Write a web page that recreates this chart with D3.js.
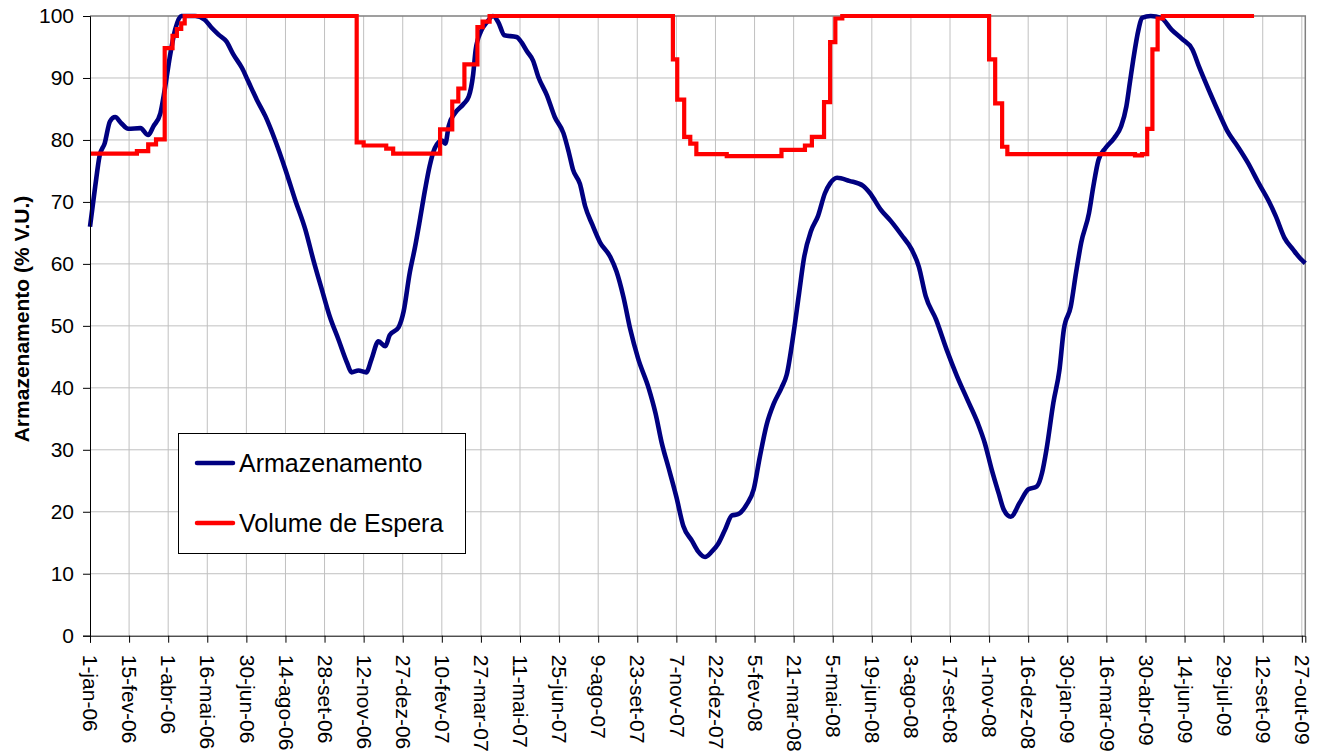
<!DOCTYPE html>
<html>
<head>
<meta charset="utf-8">
<script src="https://cdn.jsdelivr.net/npm/d3@7"></script>
<style>
  body { margin: 0; background: #fff; }
  svg { display: block; font-family: "Liberation Sans", Arial, sans-serif; }
</style>
</head>
<body>
<svg id="chart" width="1323" height="753"></svg>
<script>
// rótulos do eixo x (a cada 45 dias)
var tickLabels = [ "1-jan-06", "15-fev-06", "1-abr-06", "16-mai-06", "30-jun-06", "14-ago-06",
  "28-set-06", "12-nov-06", "27-dez-06", "10-fev-07", "27-mar-07", "11-mai-07", "25-jun-07",
  "9-ago-07", "23-set-07", "7-nov-07", "22-dez-07", "5-fev-08", "21-mar-08", "5-mai-08",
  "19-jun-08", "3-ago-08", "17-set-08", "1-nov-08", "16-dez-08", "30-jan-09", "16-mar-09",
  "30-abr-09", "14-jun-09", "29-jul-09", "12-set-09", "27-out-09" ];

var yTicks = [ 0, 10, 20, 30, 40, 50, 60, 70, 80, 90, 100 ];

// Armazenamento: dias desde 1-jan-06 e % V.U.
var armDays = [ 0, 6, 11, 17, 23, 29, 36, 44, 58, 67, 73, 81, 86, 92, 98, 105, 121, 132, 140, 148,
  157, 165, 175, 182, 192, 202, 213, 225, 236, 248, 257, 267, 276, 286, 296, 301, 309, 318, 324, 332,
  340, 345, 355, 361, 368, 374, 380, 386, 391, 397, 405, 409, 413, 420, 430, 436, 441, 444, 450, 457,
  464, 470, 477, 491, 497, 503, 510, 516, 526, 535, 545, 551, 556, 564, 570, 578, 587, 599, 606, 614,
  622, 631, 643, 651, 658, 666, 675, 683, 693, 700, 708, 716, 723, 731, 739, 746, 756, 764, 771, 779,
  787, 796, 802, 810, 816, 822, 830, 838, 846, 852, 860, 874, 890, 898, 910, 922, 934, 946, 954, 962,
  974, 986, 998, 1010, 1022, 1030, 1038, 1046, 1052, 1060, 1070, 1080, 1090, 1096, 1101, 1109, 1116, 1121, 1129, 1135,
  1141, 1150, 1155, 1161, 1169, 1179, 1187, 1193, 1197, 1201, 1207, 1211, 1221, 1233, 1245, 1257, 1269, 1277, 1289, 1301,
  1309, 1321, 1333, 1345, 1357, 1365, 1375, 1385, 1393, 1399 ];
var armValues = [ 66.0, 72.5, 77.4, 79.5, 83.0, 83.7, 82.7, 81.8, 81.9, 80.8, 82.2, 84.3, 88.1, 93.5, 97.8, 100, 100, 99.4, 98.1, 97.0,
  95.9, 93.8, 91.6, 89.5, 86.5, 83.8, 80.0, 75.2, 70.4, 65.5, 60.7, 55.8, 51.5, 47.8, 44.0, 42.5, 42.8, 42.5, 44.6, 47.5,
  46.7, 48.5, 49.7, 52.3, 58.5, 62.6, 67.3, 72.2, 75.8, 78.7, 79.9, 79.4, 82.3, 84.3, 85.8, 87.0, 90.5, 94.6, 97.5, 99.0,
  100, 99.0, 96.9, 96.6, 95.7, 94.3, 92.8, 90.2, 87.2, 83.7, 81.1, 78.1, 75.2, 72.9, 69.3, 66.4, 63.5, 61.1, 58.8, 54.7,
  49.4, 44.7, 40.0, 35.9, 31.2, 27.1, 22.4, 17.7, 15.3, 13.6, 12.7, 13.6, 14.8, 17.1, 19.4, 19.6, 21.2, 23.6, 28.8, 34.1,
  37.4, 40.0, 42.1, 48.9, 55.0, 61.0, 65.3, 67.7, 71.4, 73.0, 73.9, 73.4, 72.6, 71.4, 68.8, 66.9, 64.7, 62.3, 59.6, 54.8,
  51.0, 46.2, 41.9, 38.1, 34.3, 31.1, 26.8, 23.0, 20.3, 19.2, 21.4, 23.6, 24.1, 26.3, 30.0, 37.6, 42.9, 49.4, 53.1, 58.5,
  63.4, 68.2, 72.5, 76.8, 78.7, 80.3, 82.2, 85.4, 89.2, 93.0, 97.8, 99.7, 100, 99.7, 97.8, 96.3, 94.6, 91.7, 87.7, 83.9,
  81.5, 79.0, 76.3, 73.1, 70.1, 67.7, 64.2, 62.3, 60.9, 60.1 ];

// Volume de Espera (degraus): dia de início de cada patamar e valor
var esperaDays = [ 0, 54, 67, 76, 86, 95, 100, 105, 109, 307, 315, 341, 349, 403, 417, 424, 431, 446, 452, 460,
  671, 676, 684, 691, 698, 733, 796, 823, 831, 845, 852, 858, 866, 1035, 1042, 1050, 1056, 1203, 1211, 1217,
  1223, 1229, 1235, 1340 ];
var esperaValues = [ 77.8, 78.2, 79.3, 80.1, 94.8, 96.8, 97.9, 98.8, 100, 79.6, 79.1, 78.6, 77.8, 81.7, 86.2, 88.3, 92.2, 98.2, 99.1, 100,
  93.0, 86.5, 80.5, 79.4, 77.7, 77.4, 78.4, 79.1, 80.5, 86.1, 95.8, 99.6, 100, 93.0, 85.9, 78.9, 77.7, 77.5, 77.7, 81.8,
  94.6, 99.6, 100, 100 ];

var seriesNames = [ "Armazenamento", "Volume de Espera" ];
var seriesColors = [ "#000080", "#ff0000" ];

var MARGIN = { left: 90, right: 1305.3, top: 16, bottom: 635.7 };

var ptLocale = d3.timeFormatLocale( {
  dateTime: "%d/%m/%Y %H:%M:%S", date: "%d/%m/%Y", time: "%H:%M:%S",
  periods: [ "AM", "PM" ],
  days: [ "domingo", "segunda", "terça", "quarta", "quinta", "sexta", "sábado" ],
  shortDays: [ "dom", "seg", "ter", "qua", "qui", "sex", "sáb" ],
  months: [ "janeiro", "fevereiro", "março", "abril", "maio", "junho", "julho", "agosto", "setembro", "outubro", "novembro", "dezembro" ],
  shortMonths: [ "jan", "fev", "mar", "abr", "mai", "jun", "jul", "ago", "set", "out", "nov", "dez" ]
} );
var parsePt = ptLocale.utcParse( "%d-%b-%y" );

var start = Date.UTC( 2006, 0, 1 );
var toDate = function( d ){ return d3.utcDay.offset( new Date( start ), d ); };

var tickDates = tickLabels.map( parsePt );

var x = d3.scaleUtc()
  .domain( [ toDate( 0 ), toDate( 1399 ) ] )
  .range( [ MARGIN.left, MARGIN.right ] );

var y = d3.scaleLinear()
  .domain( [ 0, 100 ] )
  .range( [ MARGIN.bottom, MARGIN.top ] );

var svg = d3.select( "#chart" );

// grade
var grid = svg.append( "g" ).attr( "stroke", "#c0c0c0" ).attr( "stroke-width", 1 );
grid.selectAll( ".hgrid" )
  .data( yTicks.filter( function( v ){ return v > 0 && v < 100; } ) )
  .enter().append( "line" )
  .attr( "x1", MARGIN.left ).attr( "x2", MARGIN.right )
  .attr( "y1", function( v ){ return y( v ); } ).attr( "y2", function( v ){ return y( v ); } );
grid.selectAll( ".vgrid" )
  .data( tickDates.slice( 1 ) )
  .enter().append( "line" )
  .attr( "y1", MARGIN.top ).attr( "y2", MARGIN.bottom )
  .attr( "x1", function( d ){ return x( d ); } ).attr( "x2", function( d ){ return x( d ); } );

// borda superior e direita
svg.append( "path" )
  .attr( "d", "M" + MARGIN.left + "," + MARGIN.top + "H" + MARGIN.right + "V" + MARGIN.bottom )
  .attr( "fill", "none" ).attr( "stroke", "#808080" ).attr( "stroke-width", 1.5 );

// séries
var armData = armDays.map( function( d, i ){ return [ toDate( d ), armValues[ i ] ]; } );
var esperaData = esperaDays.map( function( d, i ){ return [ toDate( d ), esperaValues[ i ] ]; } );

var line = d3.line()
  .x( function( p ){ return x( p[ 0 ] ); } )
  .y( function( p ){ return y( p[ 1 ] ); } );

svg.append( "path" )
  .datum( armData )
  .attr( "d", line.curve( d3.curveMonotoneX ) )
  .attr( "fill", "none" ).attr( "stroke", seriesColors[ 0 ] )
  .attr( "stroke-width", 4.6 ).attr( "stroke-linejoin", "round" );

svg.append( "path" )
  .datum( esperaData )
  .attr( "d", line.curve( d3.curveStepAfter ) )
  .attr( "fill", "none" ).attr( "stroke", seriesColors[ 1 ] )
  .attr( "stroke-width", 4.2 ).attr( "stroke-linejoin", "miter" );

// eixos
var yAxis = svg.append( "g" )
  .attr( "transform", "translate(" + MARGIN.left + ",0)" )
  .call( d3.axisLeft( y ).tickValues( yTicks ).tickSize( 7 ).tickPadding( 9 ) );
yAxis.select( ".domain" ).attr( "stroke", "#000" );
yAxis.selectAll( "text" ).attr( "font-size", 21 ).attr( "fill", "#000" )
  .attr( "font-family", "Liberation Sans, Arial, sans-serif" );

var xAxis = svg.append( "g" )
  .attr( "transform", "translate(0," + MARGIN.bottom + ")" )
  .call( d3.axisBottom( x ).tickValues( tickDates )
    .tickFormat( function( d, i ){ return tickLabels[ i ]; } )
    .tickSize( 7 ) );
xAxis.select( ".domain" ).attr( "stroke", "#000" );
xAxis.selectAll( "text" )
  .attr( "font-size", 21 ).attr( "fill", "#000" )
  .attr( "font-family", "Liberation Sans, Arial, sans-serif" )
  .attr( "text-anchor", "start" )
  .attr( "y", 0 ).attr( "x", 0 ).attr( "dy", "0.35em" )
  .attr( "transform", "translate(0,19) rotate(90)" );

// título do eixo y
svg.append( "text" )
  .attr( "transform", "translate(29,319) rotate(-90)" )
  .attr( "text-anchor", "middle" )
  .attr( "font-size", 21 ).attr( "font-weight", "bold" )
  .text( "Armazenamento (% V.U.)" );

// legenda
var legend = svg.append( "g" );
legend.append( "rect" )
  .attr( "x", 178.5 ).attr( "y", 433.5 ).attr( "width", 287 ).attr( "height", 120 )
  .attr( "fill", "#fff" ).attr( "stroke", "#000" ).attr( "stroke-width", 1 );

var items = legend.selectAll( ".item" )
  .data( seriesNames )
  .enter().append( "g" )
  .attr( "transform", function( d, i ){ return "translate(0," + ( 463 + i * 60 ) + ")"; } );
items.append( "line" )
  .attr( "x1", 197 ).attr( "x2", 233 )
  .attr( "stroke", function( d, i ){ return seriesColors[ i ]; } )
  .attr( "stroke-width", 4.5 ).attr( "stroke-linecap", "round" );
items.append( "text" )
  .attr( "x", 239 ).attr( "dy", "0.36em" )
  .attr( "font-size", 25 )
  .text( function( d ){ return d; } );
</script>
</body>
</html>
